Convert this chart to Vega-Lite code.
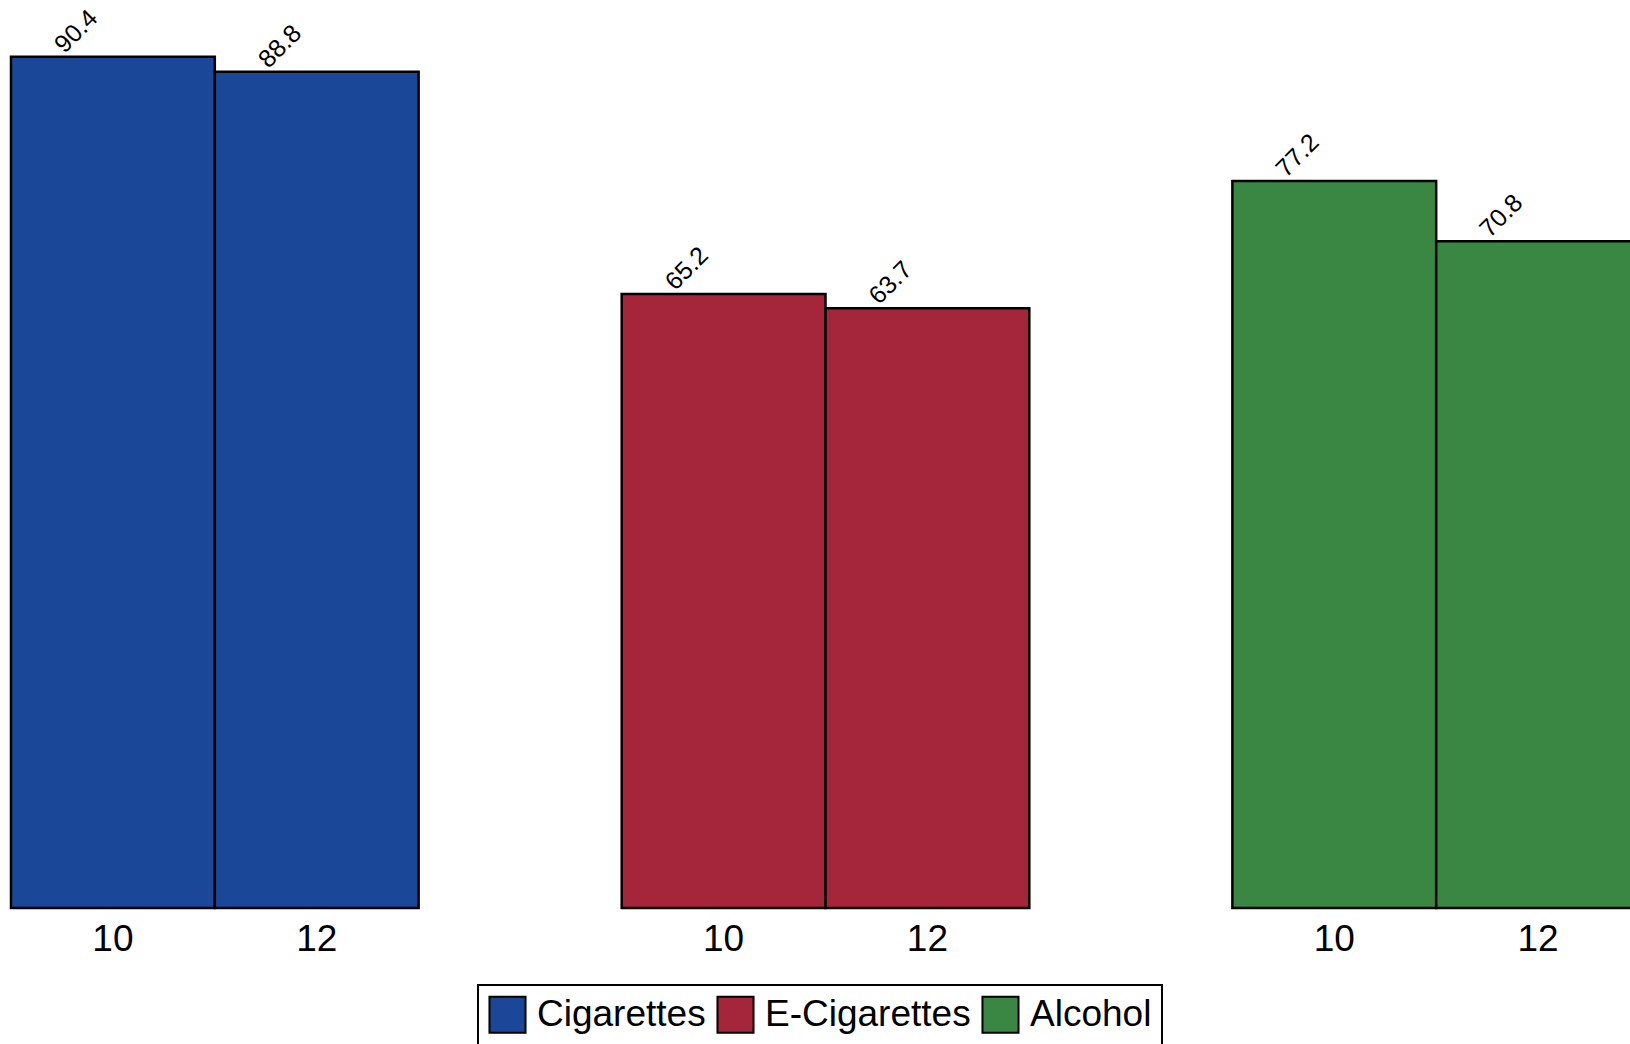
{
  "$schema": "https://vega.github.io/schema/vega-lite/v6.json",
  "padding": {"left": 9, "top": 4, "right": 0, "bottom": 0},
  "background": "white",
  "width": 1629,
  "height": 904,
  "data": {
    "values": [
      {"substance": "Cigarettes", "grade": "10", "value": 90.4},
      {"substance": "Cigarettes", "grade": "12", "value": 88.8},
      {"substance": "E-Cigarettes", "grade": "10", "value": 65.2},
      {"substance": "E-Cigarettes", "grade": "12", "value": 63.7},
      {"substance": "Alcohol", "grade": "10", "value": 77.2},
      {"substance": "Alcohol", "grade": "12", "value": 70.8}
    ]
  },
  "encoding": {
    "x": {
      "field": "substance",
      "type": "nominal",
      "sort": ["Cigarettes", "E-Cigarettes", "Alcohol"],
      "scale": {"paddingInner": 0.3325, "paddingOuter": 0},
      "axis": null
    },
    "xOffset": {
      "field": "grade",
      "type": "nominal",
      "scale": {"paddingInner": 0, "paddingOuter": 0}
    }
  },
  "layer": [
    {
      "mark": {"type": "bar", "stroke": "black", "strokeWidth": 2.5, "opacity": 1},
      "encoding": {
        "y": {
          "field": "value",
          "type": "quantitative",
          "scale": {"domain": [0, 96], "nice": false, "zero": true},
          "axis": null
        },
        "color": {
          "field": "substance",
          "type": "nominal",
          "scale": {
            "domain": ["Cigarettes", "E-Cigarettes", "Alcohol"],
            "range": ["#1a4798", "#a5263a", "#398743"]
          },
          "legend": {
            "title": null,
            "orient": "none",
            "direction": "horizontal",
            "legendX": 467,
            "legendY": 981,
            "symbolType": "square",
            "symbolSize": 1300,
            "symbolStrokeColor": "black",
            "symbolStrokeWidth": 2,
            "symbolOpacity": 1,
            "labelFontSize": 37,
            "labelFont": "Liberation Sans",
            "labelColor": "black",
            "labelOffset": 10,
            "labelLimit": 400,
            "columnPadding": 7,
            "padding": 10,
            "strokeColor": "black",
            "fillColor": "white",
            "encode": {
              "legend": {"update": {"strokeWidth": {"value": 2}}}
            }
          }
        }
      }
    },
    {
      "mark": {
        "type": "text",
        "angle": -45,
        "align": "center",
        "baseline": "middle",
        "dx": -8,
        "dy": -44,
        "fontSize": 25,
        "font": "Liberation Sans",
        "color": "black"
      },
      "encoding": {
        "y": {"field": "value", "type": "quantitative"},
        "text": {"field": "value", "type": "quantitative", "format": ".1f"}
      }
    },
    {
      "mark": {
        "type": "text",
        "align": "center",
        "baseline": "top",
        "dy": 14,
        "fontSize": 37,
        "font": "Liberation Sans",
        "color": "black"
      },
      "encoding": {
        "y": {"datum": 0, "type": "quantitative"},
        "text": {"field": "grade", "type": "nominal"}
      }
    }
  ],
  "config": {
    "view": {"stroke": null},
    "axis": {"grid": false}
  }
}
